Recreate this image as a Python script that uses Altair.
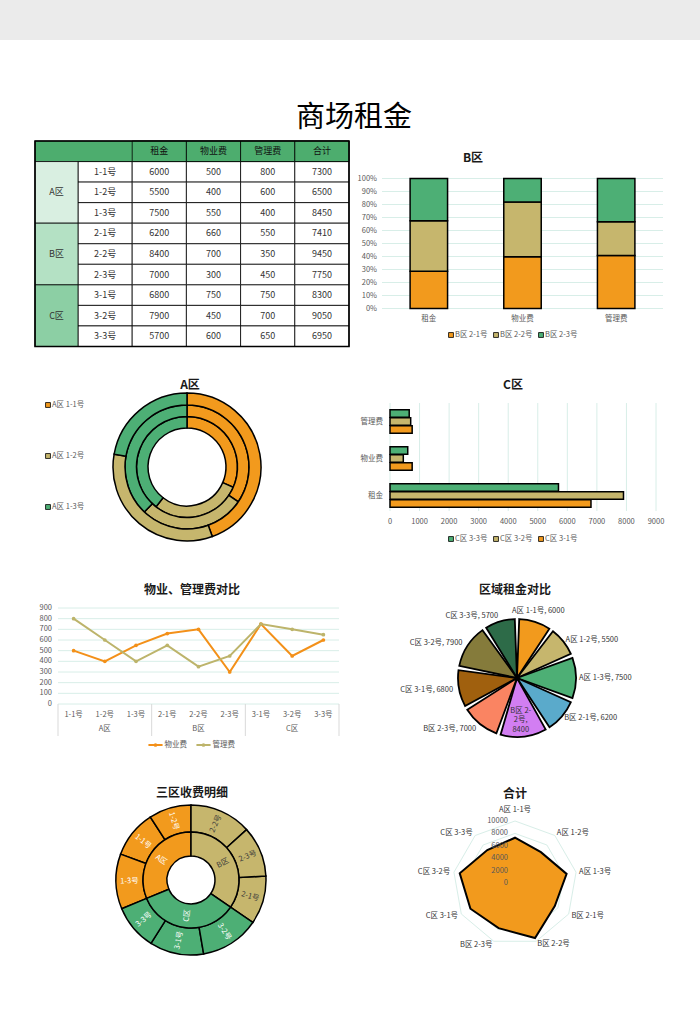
import math
import altair as alt
import pandas as pd

FONT = "Noto Sans CJK SC"

# ---------------- data ----------------
zones = ["A区", "B区", "C区"]
ids = ["1-1号", "1-2号", "1-3号", "2-1号", "2-2号", "2-3号", "3-1号", "3-2号", "3-3号"]
rent = [6000, 5500, 7500, 6200, 8400, 7000, 6800, 7900, 5700]
prop_fee = [500, 400, 550, 660, 700, 300, 750, 450, 600]
mgmt_fee = [800, 600, 400, 550, 350, 450, 750, 700, 650]
totals = [7300, 6500, 8450, 7410, 9450, 7750, 8300, 9050, 6950]
fee_types = ["租金", "物业费", "管理费"]
table_cols = ["编号", "租金", "物业费", "管理费", "合计"]
table_headers = ["租金", "物业费", "管理费", "合计"]
line_series = ["物业费", "管理费"]
pct_ticks = [0.0, 0.1, 0.2, 0.3, 0.4, 0.5, 0.6, 0.7, 0.8, 0.9, 1.0]
c_ticks = [0, 1000, 2000, 3000, 4000, 5000, 6000, 7000, 8000, 9000]
line_ticks = [0, 100, 200, 300, 400, 500, 600, 700, 800, 900]
radar_ticks = [0, 2000, 4000, 6000, 8000, 10000]
main_title = "商场租金"
chart_titles = ["B区", "A区", "C区", "物业、管理费对比", "区域租金对比", "三区收费明细", "合计"]

# ---------------- styles ----------------
ORANGE, KHAKI, GREEN = "#F29A1D", "#C6B66D", "#4DAF75"
PIE_COLORS = ["#F29A1D", "#C6B66D", "#4DAF75", "#5AAACB", "#D27EF2",
              "#FA8462", "#A0600E", "#857B3B", "#2D6B48"]
LINE_COLORS = ["#F39019", "#BDB46B"]
GRID = "#D8EEE8"
AXIS = "#595959"
TXT = "#333333"
TABLE_HEAD = "#4DAD6E"
ZONE_FILLS = ["#D9EFE1", "#B4E1C4", "#8CCFA4"]
TITLE_POS = [(473, 158), (190, 385), (513, 385), (192, 590), (515, 590), (192, 793), (515, 794)]

zone_of = [zones[int(i[0]) - 1] for i in ids]
full_names = [z + " " + i for z, i in zip(zone_of, ids)]
fee_arrays = [rent, prop_fee, mgmt_fee]

layers = []


def T(**kw):
    d = dict(font=FONT, fontSize=8, color=TXT, baseline="middle")
    d.update(kw)
    return d


# ---------------- header band & title ----------------
layers.append(alt.Chart(pd.DataFrame({"z": [0]})).mark_rect(color="#EBEBEB").encode(
    x=alt.value(0), x2=alt.value(700), y=alt.value(0), y2=alt.value(40)))
layers.append(alt.Chart(pd.DataFrame({"t": [main_title]})).mark_text(
    **T(fontSize=29, color="black")).encode(text="t:N", x=alt.value(354), y=alt.value(118)))
for t, (tx, ty) in zip(chart_titles, TITLE_POS):
    layers.append(alt.Chart(pd.DataFrame({"t": [t]})).mark_text(
        **T(fontSize=12, fontWeight="bold", color="#1a1a1a")).encode(
        text="t:N", x=alt.value(tx), y=alt.value(ty)))

# ---------------- table ----------------
TX = alt.Scale(type="band", domain=table_cols, range=[78, 349], paddingInner=0, paddingOuter=0)
TY = alt.Scale(type="linear", domain=[0, 10], range=[141, 346.5], nice=False, zero=False)

cells = []
for i in range(9):
    vals = [ids[i], rent[i], prop_fee[i], mgmt_fee[i], totals[i]]
    for c, v in zip(table_cols, vals):
        cells.append({"row": i + 1, "col": c, "text": str(v)})
cells_base = alt.Chart(pd.DataFrame(cells)).transform_calculate(
    r1="datum.row + 1", rm="datum.row + 0.5")
layers.append(cells_base.mark_rect(fill="white", stroke="black", strokeWidth=0.8).encode(
    x=alt.X("col:N", scale=TX, axis=None),
    y=alt.Y("row:Q", scale=TY, axis=None), y2="r1:Q"))
layers.append(cells_base.mark_text(**T(fontSize=9)).encode(
    x=alt.X("col:N", scale=TX, axis=None),
    y=alt.Y("rm:Q", scale=TY, axis=None), text="text:N"))

hdr_base = alt.Chart(pd.DataFrame({"col": table_headers})).transform_calculate(
    r0="0", r1="1", rm="0.5")
layers.append(hdr_base.transform_filter("datum.col == '租金'").mark_rect(
    fill=TABLE_HEAD, stroke="black", strokeWidth=0.8).encode(
    x=alt.value(35), x2=alt.value(349),
    y=alt.Y("r0:Q", scale=TY, axis=None), y2="r1:Q"))
layers.append(hdr_base.mark_rect(fill=TABLE_HEAD, stroke="black", strokeWidth=0.8).encode(
    x=alt.X("col:N", scale=TX, axis=None),
    y=alt.Y("r0:Q", scale=TY, axis=None), y2="r1:Q"))
layers.append(hdr_base.mark_text(**T(fontSize=9, color="#111111")).encode(
    x=alt.X("col:N", scale=TX, axis=None),
    y=alt.Y("rm:Q", scale=TY, axis=None), text="col:N"))

zone_base = alt.Chart(pd.DataFrame({"zone": zones, "i": [0, 1, 2]})).transform_calculate(
    r0="1 + 3 * datum.i", r1="4 + 3 * datum.i", rm="2.5 + 3 * datum.i")
layers.append(zone_base.mark_rect(stroke="black", strokeWidth=0.8).encode(
    x=alt.value(35), x2=alt.value(78),
    y=alt.Y("r0:Q", scale=TY, axis=None), y2="r1:Q",
    fill=alt.Fill("zone:N", scale=alt.Scale(domain=zones, range=ZONE_FILLS), legend=None)))
layers.append(zone_base.mark_text(**T(fontSize=9)).encode(
    x=alt.value(56.5), y=alt.Y("rm:Q", scale=TY, axis=None), text="zone:N"))
layers.append(alt.Chart(pd.DataFrame({"z": [0]})).mark_rect(
    fillOpacity=0, stroke="black", strokeWidth=1.6).encode(
    x=alt.value(35), x2=alt.value(349), y=alt.value(141), y2=alt.value(346.5)))

# ---------------- B区 stacked 100% ----------------
b_items = full_names[3:6]
b_rows = []
for f, arr in zip(fee_types, fee_arrays):
    for k in range(3):
        b_rows.append({"fee": f, "item": b_items[k], "k": k, "value": arr[3 + k]})
b_df = pd.DataFrame(b_rows)
BX = alt.Scale(type="band", domain=fee_types, range=[382, 663], paddingInner=0.6, paddingOuter=0.3)
BY = alt.Scale(domain=[0, 1], range=[308.5, 178.5], nice=False)
tri = [ORANGE, KHAKI, GREEN]
BC = alt.Scale(domain=b_items, range=tri)

pct_df = pd.DataFrame({"t": pct_ticks})
layers.append(alt.Chart(pct_df).mark_rule(color=GRID, strokeWidth=1).encode(
    y=alt.Y("t:Q", scale=BY, axis=None), x=alt.value(382), x2=alt.value(663)))
layers.append(alt.Chart(pct_df).mark_text(**T(fontSize=7.5, color=AXIS, align="right")).encode(
    y=alt.Y("t:Q", scale=BY, axis=None), x=alt.value(377), text=alt.Text("t:Q", format=".0%")))
layers.append(alt.Chart(b_df).mark_bar(stroke="black", strokeWidth=1.5).encode(
    x=alt.X("fee:N", scale=BX, axis=None),
    y=alt.Y("value:Q", stack="normalize", scale=BY, axis=None),
    color=alt.Color("item:N", scale=BC, legend=None),
    order=alt.Order("k:Q")))
layers.append(alt.Chart(pd.DataFrame({"fee": fee_types})).mark_text(
    **T(fontSize=7.5, color=AXIS)).encode(
    x=alt.X("fee:N", scale=BX, axis=None), y=alt.value(319), text="fee:N"))
bl = pd.DataFrame({"item": b_items})
BLX = alt.Scale(type="point", domain=b_items, range=[451, 541], padding=0)
layers.append(alt.Chart(bl).mark_point(shape="square", filled=True, size=24, stroke="black",
                                       strokeWidth=0.8, opacity=1).encode(
    x=alt.X("item:N", scale=BLX, axis=None), y=alt.value(335),
    fill=alt.Fill("item:N", scale=BC, legend=None)))
layers.append(alt.Chart(bl).mark_text(**T(fontSize=7.5, color=AXIS, align="left", dx=4)).encode(
    x=alt.X("item:N", scale=BLX, axis=None), y=alt.value(335), text="item:N"))

# ---------------- A区 multi-ring donut ----------------
a_items = full_names[0:3]
a_rows = []
for f, arr in zip(fee_types, fee_arrays):
    for k in range(3):
        a_rows.append({"fee": f, "item": a_items[k], "k": k, "value": arr[k]})
a_df = pd.DataFrame(a_rows)
AC = alt.Scale(domain=a_items, range=tri)
for f, r_in, r_out in zip(fee_types, [39, 50.5, 62], [50.5, 62, 74]):
    layers.append(alt.Chart(a_df).transform_filter(alt.datum.fee == f).mark_arc(
        radius=r_out, radius2=r_in, stroke="black", strokeWidth=1.5).encode(
        theta=alt.Theta("value:Q", stack=True),
        order=alt.Order("k:Q"),
        color=alt.Color("item:N", scale=AC, legend=None),
        x=alt.value(187), y=alt.value(467)))
al = pd.DataFrame({"item": a_items})
ALY = alt.Scale(type="point", domain=a_items, range=[405, 507], padding=0)
layers.append(alt.Chart(al).mark_point(shape="square", filled=True, size=24, stroke="black",
                                       strokeWidth=0.8, opacity=1).encode(
    y=alt.Y("item:N", scale=ALY, axis=None), x=alt.value(48),
    fill=alt.Fill("item:N", scale=AC, legend=None)))
layers.append(alt.Chart(al).mark_text(**T(fontSize=7.5, color=AXIS, align="left")).encode(
    y=alt.Y("item:N", scale=ALY, axis=None), x=alt.value(52), text="item:N"))

# ---------------- C区 grouped horizontal bars ----------------
c_items = [full_names[8], full_names[7], full_names[6]]
c_rows = []
for f, arr in zip(fee_types, fee_arrays):
    for k, idx in enumerate([8, 7, 6]):
        c_rows.append({"fee": f, "item": c_items[k], "value": arr[idx]})
c_df = pd.DataFrame(c_rows)
c_order = ["管理费", "物业费", "租金"]
CY = alt.Scale(type="band", domain=c_order, range=[403, 514], paddingInner=0.37, paddingOuter=0.185)
CX = alt.Scale(domain=[0, 9000], range=[390, 656], nice=False, zero=True)
CC = alt.Scale(domain=c_items, range=[GREEN, KHAKI, ORANGE])
ct = pd.DataFrame({"t": c_ticks})
layers.append(alt.Chart(ct).mark_rule(color=GRID, strokeWidth=1).encode(
    x=alt.X("t:Q", scale=CX, axis=None), y=alt.value(403), y2=alt.value(511)))
layers.append(alt.Chart(ct).mark_text(**T(fontSize=7.5, color=AXIS)).encode(
    x=alt.X("t:Q", scale=CX, axis=None), y=alt.value(521.5), text="t:Q"))
layers.append(alt.Chart(c_df).mark_bar(stroke="black", strokeWidth=1.5).encode(
    y=alt.Y("fee:N", scale=CY, axis=None),
    yOffset=alt.YOffset("item:N", scale=alt.Scale(domain=c_items, paddingInner=0.08)),
    x=alt.X("value:Q", scale=CX, axis=None),
    color=alt.Color("item:N", scale=CC, legend=None)))
layers.append(alt.Chart(pd.DataFrame({"fee": c_order})).mark_text(
    **T(fontSize=7.5, color=AXIS, align="right")).encode(
    y=alt.Y("fee:N", scale=CY, axis=None), x=alt.value(383), text="fee:N"))
cl = pd.DataFrame({"item": c_items})
CLX = alt.Scale(type="point", domain=c_items, range=[451, 541], padding=0)
layers.append(alt.Chart(cl).mark_point(shape="square", filled=True, size=24, stroke="black",
                                       strokeWidth=0.8, opacity=1).encode(
    x=alt.X("item:N", scale=CLX, axis=None), y=alt.value(539),
    fill=alt.Fill("item:N", scale=CC, legend=None)))
layers.append(alt.Chart(cl).mark_text(**T(fontSize=7.5, color=AXIS, align="left", dx=4)).encode(
    x=alt.X("item:N", scale=CLX, axis=None), y=alt.value(539), text="item:N"))

# ---------------- line chart ----------------
l_rows = []
for s, arr in zip(line_series, [prop_fee, mgmt_fee]):
    for i in range(9):
        l_rows.append({"series": s, "id": ids[i], "i": i, "value": arr[i]})
l_df = pd.DataFrame(l_rows)
LX = alt.Scale(type="point", domain=ids, range=[58, 339], padding=0.5)
LXB = alt.Scale(type="band", domain=ids, range=[58, 339], paddingInner=0, paddingOuter=0)
LY = alt.Scale(domain=[0, 900], range=[704, 608], nice=False)
LC = alt.Scale(domain=line_series, range=LINE_COLORS)
lt = pd.DataFrame({"t": line_ticks})
layers.append(alt.Chart(lt).mark_rule(color=GRID, strokeWidth=1).encode(
    y=alt.Y("t:Q", scale=LY, axis=None), x=alt.value(58), x2=alt.value(339)))
layers.append(alt.Chart(lt).mark_text(**T(fontSize=7.5, color=AXIS, align="right")).encode(
    y=alt.Y("t:Q", scale=LY, axis=None), x=alt.value(52), text="t:Q"))
layers.append(alt.Chart(pd.DataFrame({"id": [ids[0], ids[3], ids[6]]})).mark_rule(
    color="#D9D9D9", strokeWidth=1).encode(
    x=alt.X("id:N", scale=LXB, axis=None, bandPosition=0), y=alt.value(704), y2=alt.value(736)))
layers.append(alt.Chart(pd.DataFrame({"id": [ids[8]]})).mark_rule(
    color="#D9D9D9", strokeWidth=1).encode(
    x=alt.X("id:N", scale=LXB, axis=None, bandPosition=1), y=alt.value(704), y2=alt.value(736)))
layers.append(alt.Chart(pd.DataFrame({"id": ids})).mark_text(**T(fontSize=7.5, color=AXIS)).encode(
    x=alt.X("id:N", scale=LX, axis=None), y=alt.value(714.5), text="id:N"))
layers.append(alt.Chart(pd.DataFrame({"zone": zones, "id": [ids[1], ids[4], ids[7]]})).mark_text(
    **T(fontSize=7.5, color=AXIS)).encode(
    x=alt.X("id:N", scale=LX, axis=None), y=alt.value(729), text="zone:N"))
layers.append(alt.Chart(l_df).mark_line(strokeWidth=2).encode(
    x=alt.X("id:N", scale=LX, axis=None), y=alt.Y("value:Q", scale=LY, axis=None),
    color=alt.Color("series:N", scale=LC, legend=None), order=alt.Order("i:Q")))
layers.append(alt.Chart(l_df).mark_circle(size=14, opacity=1).encode(
    x=alt.X("id:N", scale=LX, axis=None), y=alt.Y("value:Q", scale=LY, axis=None),
    color=alt.Color("series:N", scale=LC, legend=None)))
ll = pd.DataFrame({"series": line_series})
LLX = alt.Scale(type="point", domain=line_series, range=[155.5, 203.5], padding=0)
layers.append(alt.Chart(ll).mark_point(shape="stroke", size=200, strokeWidth=2, opacity=1).encode(
    x=alt.X("series:N", scale=LLX, axis=None), y=alt.value(745),
    color=alt.Color("series:N", scale=LC, legend=None)))
layers.append(alt.Chart(ll).mark_circle(size=14, opacity=1).encode(
    x=alt.X("series:N", scale=LLX, axis=None), y=alt.value(745),
    color=alt.Color("series:N", scale=LC, legend=None)))
layers.append(alt.Chart(ll).mark_text(**T(fontSize=7.5, color=AXIS, align="left", dx=9)).encode(
    x=alt.X("series:N", scale=LLX, axis=None), y=alt.value(745), text="series:N"))

# ---------------- pie ----------------
pie_df = pd.DataFrame({"name": full_names, "value": rent, "k": list(range(9))})
PC = alt.Scale(domain=full_names, range=PIE_COLORS)
PX, PY = 517, 678
layers.append(alt.Chart(pie_df).mark_arc(radius=59, padAngle=0.075, stroke="black",
                                         strokeWidth=1.8).encode(
    theta=alt.Theta("value:Q", stack=True), order=alt.Order("k:Q"),
    color=alt.Color("name:N", scale=PC, legend=None), x=alt.value(PX), y=alt.value(PY)))
pie_lab = alt.Chart(pie_df).transform_window(
    cum="sum(value)", sort=[alt.SortField("k", order="ascending")]
).transform_joinaggregate(tot="sum(value)").transform_calculate(
    mid="(datum.cum - datum.value / 2) / datum.tot",
    lab="datum.name + ', ' + datum.value",
    lab3="substring(datum.name, 0, 5) + '|' + substring(datum.name, 5) + ',|' + datum.value")
PT = alt.Scale(domain=[0, 1], range=[0, 2 * math.pi])
for cond, align, rad, field in [
    ("datum.mid < 0.1", "center", 70, "lab"),
    ("datum.mid >= 0.1 && datum.mid < 0.45", "left", 62, "lab"),
    ("datum.mid >= 0.45 && datum.mid < 0.55", "center", 33, "lab3"),
    ("datum.mid >= 0.55", "right", 65, "lab"),
]:
    layers.append(pie_lab.transform_filter(cond).mark_text(
        **T(fontSize=7.5, align=align, radius=rad, lineBreak="|", lineHeight=9.5)).encode(
        theta=alt.Theta("mid:Q", scale=PT, stack=False),
        text=alt.Text(field + ":N"), x=alt.value(PX), y=alt.value(PY)))

# ---------------- sunburst ----------------
sb_df = pd.DataFrame({"zone": zone_of, "id": ids, "value": totals})
SX, SY = 191, 880
ZC = alt.Scale(domain=zones, range=tri)
ZT = alt.Scale(domain=zones, range=["white", "#3a3a3a", "white"])
ang_expr = "((datum.m * 360 < 180 ? datum.m * 360 - 90 : datum.m * 360 - 270) + 360) % 360"
outer = alt.Chart(sb_df).transform_joinaggregate(zt="sum(value)", groupby=["zone"]).transform_window(
    cum="sum(value)", sort=[alt.SortField("zt", order="descending"),
                            alt.SortField("value", order="descending")]
).transform_joinaggregate(g="sum(value)").transform_calculate(
    s="(datum.cum - datum.value) / datum.g", e="datum.cum / datum.g",
    m="(datum.cum - datum.value / 2) / datum.g").transform_calculate(ang=ang_expr)
inner = alt.Chart(sb_df).transform_aggregate(zt="sum(value)", groupby=["zone"]).transform_window(
    cum="sum(zt)", sort=[alt.SortField("zt", order="descending")]
).transform_joinaggregate(g="sum(zt)").transform_calculate(
    s="(datum.cum - datum.zt) / datum.g", e="datum.cum / datum.g",
    m="(datum.cum - datum.zt / 2) / datum.g").transform_calculate(ang=ang_expr)
for base, r_in, r_out, lab in [(outer, 48, 75, "id"), (inner, 24, 48, "zone")]:
    layers.append(base.mark_arc(radius=r_out, radius2=r_in, stroke="black", strokeWidth=1.5).encode(
        theta=alt.Theta("s:Q", scale=PT, stack=False), theta2="e:Q",
        color=alt.Color("zone:N", scale=ZC, legend=None), x=alt.value(SX), y=alt.value(SY)))
    layers.append(base.mark_text(**T(fontSize=7.5, radius=(r_in + r_out) / 2)).encode(
        theta=alt.Theta("m:Q", scale=PT, stack=False), angle=alt.Angle("ang:Q", scale=None),
        text=alt.Text(lab + ":N"), color=alt.Color("zone:N", scale=ZT, legend=None),
        x=alt.value(SX), y=alt.value(SY)))

# ---------------- radar ----------------
RXs = alt.Scale(domain=[-10000, 10000], range=[515 - 62, 515 + 62], nice=False, zero=False)
RYs = alt.Scale(domain=[-10000, 10000], range=[883 + 62, 883 - 62], nice=False, zero=False)
grid_df = pd.DataFrame([{"lvl": lv, "k": k} for lv in radar_ticks[1:] for k in range(9)])
layers.append(alt.Chart(grid_df).transform_calculate(
    a="datum.k * 2 * PI / 9", px="datum.lvl * sin(datum.a)", py="datum.lvl * cos(datum.a)"
).mark_line(interpolate="linear-closed", color=GRID, strokeWidth=1).encode(
    x=alt.X("px:Q", scale=RXs, axis=None), y=alt.Y("py:Q", scale=RYs, axis=None),
    detail="lvl:N", order=alt.Order("k:Q")))
rad_df = pd.DataFrame({"name": full_names, "value": totals, "k": list(range(9))})
rad = alt.Chart(rad_df).transform_calculate(
    a="datum.k * 2 * PI / 9", px="datum.value * sin(datum.a)", py="datum.value * cos(datum.a)")
layers.append(rad.mark_line(interpolate="linear-closed", fill=ORANGE, stroke="black",
                            strokeWidth=2).encode(
    x=alt.X("px:Q", scale=RXs, axis=None), y=alt.Y("py:Q", scale=RYs, axis=None),
    order=alt.Order("k:Q")))
layers.append(alt.Chart(pd.DataFrame({"t": radar_ticks})).transform_calculate(z="0").mark_text(
    **T(fontSize=7.5, color=AXIS, align="right", dx=-7)).encode(
    x=alt.X("z:Q", scale=RXs, axis=None), y=alt.Y("t:Q", scale=RYs, axis=None), text="t:Q"))
for cond, align, L in [("datum.k == 0", "center", 11700),
                       ("datum.k >= 1 && datum.k <= 4", "left", 10500),
                       ("datum.k >= 5", "right", 10600)]:
    layers.append(alt.Chart(rad_df).transform_filter(cond).transform_calculate(
        a="datum.k * 2 * PI / 9", lx="%d * sin(datum.a)" % L, ly="%d * cos(datum.a)" % L
    ).mark_text(**T(fontSize=7.5, align=align)).encode(
        x=alt.X("lx:Q", scale=RXs, axis=None), y=alt.Y("ly:Q", scale=RYs, axis=None),
        text="name:N"))

chart = alt.layer(*layers).resolve_scale(
    x="independent", y="independent", color="independent", fill="independent",
    theta="independent", yOffset="independent"
).properties(
    width=700, height=1030, autosize=alt.AutoSizeParams(type="none"), padding=0,
    background="white"
).configure_view(strokeWidth=0)

chart.save("out.html", embed_options={"renderer": "svg", "actions": False})
